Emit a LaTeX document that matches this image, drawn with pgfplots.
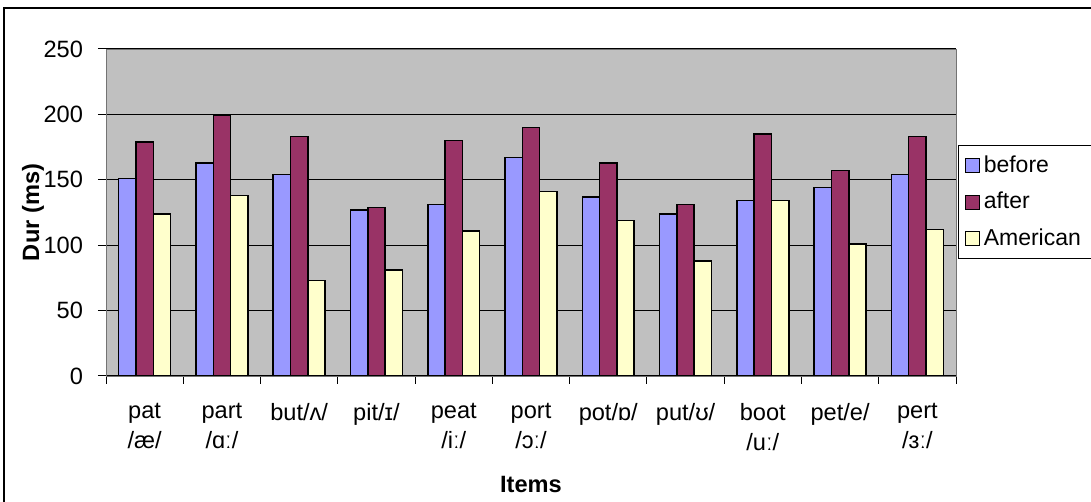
\documentclass[border=0pt]{standalone}
\usepackage{pgfplots}
\pgfplotsset{compat=1.18}
\usepackage{fontspec}
\setmainfont{Liberation Sans}
\definecolor{cbefore}{HTML}{9999FF}
\definecolor{cafter}{HTML}{993366}
\definecolor{camer}{HTML}{FFFFCC}
\definecolor{plotbg}{HTML}{C0C0C0}

\begin{document}
\begin{tikzpicture}
% page = 1091 x 502 px at 0.5pt per px
\path[use as bounding box] (0,0) rectangle (545.5pt,251pt);
\draw[line width=1pt] (2pt,-10pt) rectangle (560pt,247pt);
\begin{axis}[%
    at={(53pt,63pt)}, anchor=south west,
    scale only axis,
    width=425pt, height=163.5pt,
    ybar=0pt,
    bar width=8.65pt,
    axis background/.style={fill=plotbg},
    axis line style={black!55},
    xmin=-0.5, xmax=10.5,
    ymin=0, ymax=250,
    ytick={0,50,...,250},
    xtick={0,...,10},
    minor xtick={-0.5,0.5,...,10.5},
    major x tick style={draw=none},
    minor tick length=4pt,
    major tick length=4pt,
    tick align=outside,
    tick pos=left,
    tick style={black, line width=0.5pt},
    ymajorgrids,
    grid style={black, line width=0.6pt},
    font=\fontsize{11.8}{15}\selectfont,
    /pgf/number format/assume math mode=true,
    xticklabels={{pat\\/æ/},{part\\/ɑː/},{but/ʌ/},{pit/ɪ/},{peat\\/iː/},{port\\/ɔː/},{pot/ɒ/},{put/ʊ/},{boot\\/uː/},{pet/e/},{pert\\/ɜː/}},
    xticklabel style={align=center, anchor=north, yshift=-6pt},
    yticklabel style={xshift=-4pt},
    xlabel={\textbf{Items}},
    ylabel={\textbf{Dur (ms)}},
    x label style={at={(axis description cs:0.5,-0.333)}, anchor=center},
    y label style={at={(axis description cs:-0.086,0.5)}, anchor=center},
    legend style={at={(axis description cs:1.0024,0.706)}, anchor=north west,
        draw=black, fill=white, line width=0.5pt,
        font=\fontsize{11.5}{14}\selectfont,
        row sep=4.5pt, inner sep=3pt,
        cells={anchor=west, text width=52pt}},
    legend image code/.code={\draw[#1, line width=0.6pt] (3pt,-3.5pt) rectangle (10pt,3.5pt);},
    ]
\addplot[draw=black, line width=0.75pt, fill=cbefore] coordinates {
    (0,151) (1,163) (2,154) (3,127) (4,131) (5,167) (6,137) (7,124) (8,134) (9,144) (10,154)};
\addplot[draw=black, line width=0.75pt, fill=cafter] coordinates {
    (0,179) (1,199) (2,183) (3,129) (4,180) (5,190) (6,163) (7,131) (8,185) (9,157) (10,183)};
\addplot[draw=black, line width=0.75pt, fill=camer] coordinates {
    (0,124) (1,138) (2,73) (3,81) (4,111) (5,141) (6,119) (7,88) (8,134) (9,101) (10,112)};
\legend{before,after,American}
\end{axis}
\end{tikzpicture}
\end{document}
